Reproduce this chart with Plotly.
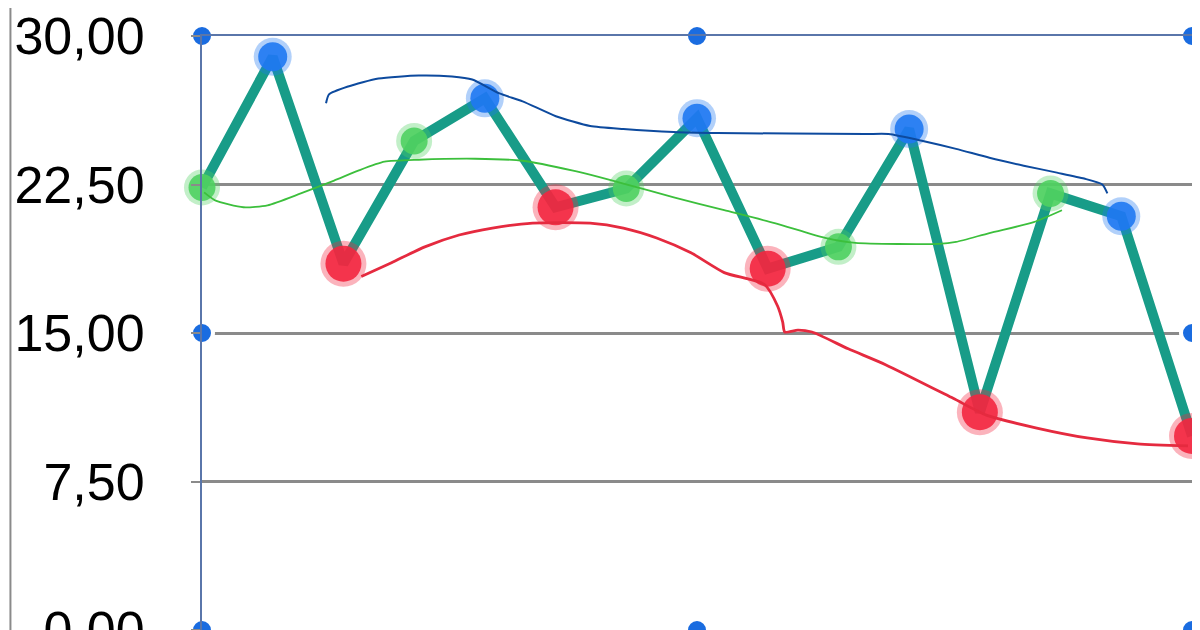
import plotly.graph_objects as go

# ---- data ----
categories = list(range(15))
values = [22.35, 28.95, 18.5, 24.7, 26.85, 21.35, 22.3, 25.85, 18.25, 19.35, 25.3, 11.0, 22.05, 20.9, 9.8]

# highlighter marks on the points
green_idx = [0, 3, 6, 9, 12]
blue_idx = [1, 4, 7, 10, 13]
red_idx = [2, 5, 8, 11, 14]

# hand-drawn trend strokes (category units, value units)
blue_stroke_x = [1.754, 1.796, 2.067, 2.495, 3.065, 3.536, 3.821, 4.206, 4.534, 5.004, 5.489, 5.959, 6.672,
                 7.285, 9.381, 9.709, 10.194, 10.664, 11.135, 11.620, 12.090, 12.475, 12.732, 12.803]
blue_stroke_y = [26.6, 27.05, 27.45, 27.85, 28.0, 27.95, 27.8, 27.1, 26.7, 25.95, 25.45, 25.3, 25.15,
                 25.1, 25.05, 25.05, 24.7, 24.3, 23.85, 23.45, 23.1, 22.8, 22.5, 22.05]

green_stroke_x = [0.03, 0.185, 0.585, 0.927, 1.397, 1.868, 2.210, 2.581, 3.065, 3.864, 4.534, 5.247, 5.959,
                  6.672, 7.385, 8.098, 8.811, 9.239, 10.422, 10.664, 11.135, 11.762, 12.161]
green_stroke_y = [22.1, 21.7, 21.35, 21.45, 22.05, 22.7, 23.2, 23.65, 23.75, 23.8, 23.7, 23.2, 22.55,
                  21.85, 21.2, 20.55, 19.8, 19.55, 19.5, 19.6, 20.05, 20.6, 21.2]

red_stroke_x = [2.253, 2.680, 3.151, 3.636, 4.106, 4.676, 5.489, 5.959, 6.430, 6.915, 7.385, 7.955, 8.141,
                8.212, 8.241, 8.426, 8.626, 9.139, 9.666, 10.622, 11.092, 11.805, 12.518, 13.231, 13.943]
red_stroke_y = [17.85, 18.55, 19.35, 19.95, 20.3, 20.55, 20.55, 20.3, 19.8, 19.05, 18.05, 17.45, 16.35,
                15.55, 15.05, 15.15, 15.05, 14.2, 13.4, 11.7, 10.85, 10.2, 9.7, 9.4, 9.3]

# selection handles of the chart frame
handle_x = [0, 7, 14, 0, 14, 0, 7, 14]
handle_y = [30, 30, 30, 15, 15, 0, 0, 0]

y_ticks = [0, 7.5, 15, 22.5, 30]

fig = go.Figure()

fig.add_trace(go.Scatter(x=categories, y=values, mode="lines",
                         line=dict(color="#189c88", width=10), cliponaxis=False, hoverinfo="skip"))

def blobs(idx, color, big, small):
    xs = [categories[i] for i in idx]
    ys = [values[i] for i in idx]
    fig.add_trace(go.Scatter(x=xs, y=ys, mode="markers", cliponaxis=False,
                             marker=dict(color=color, size=big, opacity=0.35, line=dict(width=0))))
    fig.add_trace(go.Scatter(x=xs, y=ys, mode="markers", cliponaxis=False,
                             marker=dict(color=color, size=small, opacity=0.9, line=dict(width=0))))

blobs(green_idx, "#4fd060", 36, 27)
blobs(blue_idx, "#1f78f2", 38, 29)
blobs(red_idx, "#f3263f", 46, 36)

fig.add_trace(go.Scatter(x=blue_stroke_x, y=blue_stroke_y, mode="lines",
                         line=dict(color="#0d4a9e", width=2, shape="spline", smoothing=0.6)))
fig.add_trace(go.Scatter(x=green_stroke_x, y=green_stroke_y, mode="lines",
                         line=dict(color="#3cbf3c", width=1.8, shape="spline", smoothing=0.6)))
fig.add_trace(go.Scatter(x=red_stroke_x, y=red_stroke_y, mode="lines",
                         line=dict(color="#e52a3f", width=2.8, shape="spline", smoothing=0.6)))

# frame handles: blue dot with white ring
fig.add_trace(go.Scatter(x=handle_x, y=handle_y, mode="markers", cliponaxis=False,
                         marker=dict(color="#1a6ce0", size=22, line=dict(color="white", width=4))))

# outer gray UI lines
for xp in [-0.1935, 1.0061]:
    fig.add_shape(type="line", xref="paper", yref="paper", x0=xp, x1=xp, y0=-0.1, y1=1.2,
                  line=dict(color="#8a8a8a", width=2))

# page body has an 8px margin, so the figure is 8px smaller than the window
fig.update_layout(
    width=1192, height=622,
    margin=dict(l=194, r=8, t=28, b=0, autoexpand=False),
    plot_bgcolor="white", paper_bgcolor="white",
    showlegend=False,
    separators=",.",
    font=dict(family="Liberation Sans, Arial, sans-serif", color="black"),
    xaxis=dict(range=[0, 14], showgrid=False, zeroline=False, showticklabels=False, automargin=False,
               showline=True, mirror=True, linecolor="#5a76aa", linewidth=2),
    yaxis=dict(range=[0, 30], tickvals=y_ticks, tickformat=".2f", automargin=False,
               showgrid=True, gridcolor="#8a8a8a", gridwidth=2.5, zeroline=False,
               ticks="outside", ticklen=9, tickcolor="#8a8a8a", tickwidth=2,
               ticklabelstandoff=36, ticklabeloverflow="allow",
               tickfont=dict(size=52, family="Liberation Sans, Arial, sans-serif", color="black"),
               showline=True, mirror=True, linecolor="#5a76aa", linewidth=2),
)

fig.write_html("out.html")
